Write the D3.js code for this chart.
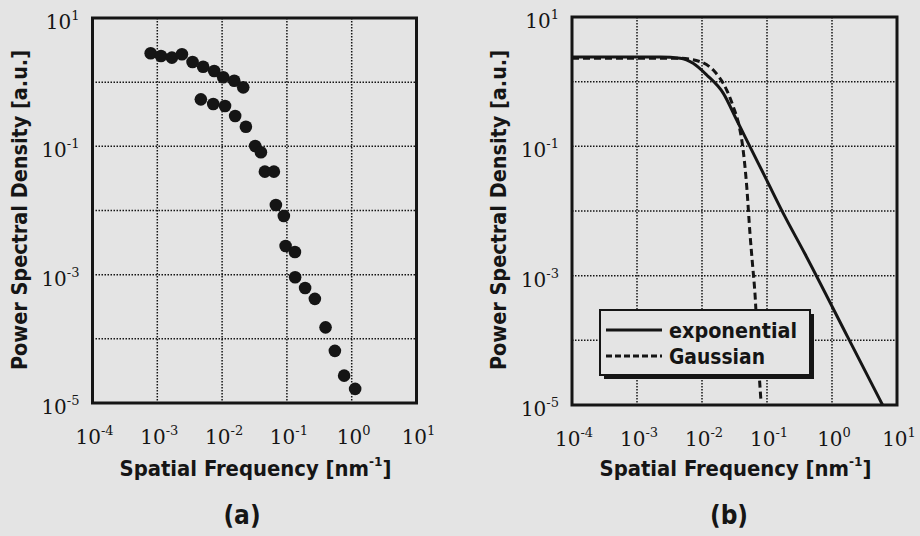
<!DOCTYPE html>
<html>
<head>
<meta charset="utf-8">
<script src="https://cdn.jsdelivr.net/npm/d3@7"></script>
<style>
  body { margin: 0; background: #e4e4e4; }
  svg { display: block; }
  .title { font-family: "DejaVu Sans Condensed", "DejaVu Sans", sans-serif; font-weight: bold; font-stretch: condensed; fill: #151515; }
  .tick-label { font-family: "DejaVu Serif", serif; fill: #151515; }
</style>
</head>
<body>
<svg id="chart" width="920" height="536"></svg>
<script>
// measured points, panel (a)
const dotFreq = [7.9e-4, 1.14e-3, 1.68e-3, 2.4e-3, 3.5e-3, 5.1e-3, 7.55e-3, 1.04e-2, 1.54e-2, 2.12e-2,
  4.7e-3, 7.3e-3, 1.11e-2, 1.59e-2, 2.33e-2, 3.24e-2, 3.97e-2, 4.57e-2, 6.3e-2, 6.76e-2,
  8.97e-2, 9.55e-2, 0.133, 0.134, 0.191, 0.27, 0.395, 0.55, 0.764, 1.13];
const dotPsd = [2.82, 2.56, 2.41, 2.72, 2.06, 1.74, 1.49, 1.19, 1.05, 0.83,
  0.54, 0.457, 0.425, 0.297, 0.202, 0.101, 0.0807, 0.0403, 0.0403, 0.0122,
  0.0082, 0.0028, 0.00225, 9.1e-4, 6.2e-4, 4.2e-4, 1.51e-4, 6.5e-5, 2.67e-5, 1.66e-5];

// model curves, panel (b)
const expFreq = [1e-4, 2.3e-3, 4.6e-3, 7.3e-3, 1.18e-2, 2.13e-2, 3.42e-2, 5.47e-2, 9.9e-2, 0.178, 0.385, 1.78, 6.0];
const expPsd = [2.4, 2.4, 2.3, 1.92, 1.27, 0.66, 0.255, 0.099, 0.030, 0.0092, 2.16e-3, 1.08e-4, 1.0e-5];
const gauFreq = [1e-4, 4.6e-3, 9.3e-3, 1.49e-2, 2.4e-2, 3.03e-2, 3.75e-2, 4.23e-2, 4.88e-2, 5.47e-2, 6.03e-2, 6.53e-2, 7.35e-2, 8.1e-2];
const gauPsd = [2.3, 2.3, 2.04, 1.51, 0.74, 0.41, 0.20, 0.099, 0.0238, 4.5e-3, 1.38e-3, 5.3e-4, 5e-5, 1.1e-5];

const xTickExp = [-4, -3, -2, -1, 0, 1];
const yTickExp = [1, -1, -3, -5];
const yGridExp = [0, -1, -2, -3, -4];
const legendNames = ["exponential", "Gaussian"];
const legendWidths = [128, 96];

const ink = "#151515";
const svg = d3.select("#chart");

function drawPanel(box, label) {
    const x = d3.scaleLog().domain([1e-4, 1e1]).range([box.left, box.right]);
    const y = d3.scaleLog().domain([1e-5, 1e1]).range([box.bottom, box.top]);
    const g = svg.append("g");

    // dotted grid
    g.selectAll(".gx").data(xTickExp.slice(1, -1)).join("line")
        .attr("x1", d => x(10 ** d)).attr("x2", d => x(10 ** d))
        .attr("y1", box.top).attr("y2", box.bottom)
        .attr("stroke", ink).attr("stroke-width", 1.5).attr("stroke-dasharray", "1.5,1.5");
    g.selectAll(".gy").data(yGridExp).join("line")
        .attr("y1", d => y(10 ** d)).attr("y2", d => y(10 ** d))
        .attr("x1", box.left).attr("x2", box.right)
        .attr("stroke", ink).attr("stroke-width", 1.5).attr("stroke-dasharray", "1.5,1.5");

    // tick labels: 10 with superscript
    const xl = g.selectAll(".xl").data(xTickExp).join("text")
        .attr("class", "tick-label")
        .attr("x", d => x(10 ** d) + 2).attr("y", box.bottom + 41)
        .attr("text-anchor", "middle").attr("font-size", 20);
    xl.append("tspan").text("10");
    xl.append("tspan").attr("font-size", 13).attr("dy", -9).text(d => d);

    const yl = g.selectAll(".yl").data(yTickExp).join("text")
        .attr("class", "tick-label")
        .attr("x", box.left - 13).attr("y", d => y(10 ** d) + 11)
        .attr("text-anchor", "end").attr("font-size", 20);
    yl.append("tspan").text("10");
    yl.append("tspan").attr("font-size", 13).attr("dy", -9).text(d => d);

    // axis titles
    const xt = g.append("text").attr("class", "title")
        .attr("x", (box.left + box.right) / 2 + 1).attr("y", 476)
        .attr("text-anchor", "middle").attr("font-size", 21)
        .attr("textLength", 272).attr("lengthAdjust", "spacingAndGlyphs");
    xt.append("tspan").text("Spatial Frequency [nm");
    xt.append("tspan").attr("font-size", 13).attr("dy", -10).text("-1");
    xt.append("tspan").attr("dy", 10).text("]");

    g.append("text").attr("class", "title")
        .attr("transform", `translate(${box.left - 66},210) rotate(-90)`)
        .attr("text-anchor", "middle").attr("font-size", 21)
        .attr("textLength", 320).attr("lengthAdjust", "spacingAndGlyphs")
        .text("Power Spectral Density [a.u.]");

    g.append("text").attr("class", "title")
        .attr("x", box.labelX).attr("y", 524)
        .attr("text-anchor", "middle").attr("font-size", 26)
        .text(label);

    return { g, x, y };
}

// panel (a)
const a = drawPanel({ left: 92.5, right: 416.5, top: 18, bottom: 403, labelX: 242 }, "(a)");
a.g.selectAll("circle").data(dotFreq).join("circle")
    .attr("cx", d => a.x(d))
    .attr("cy", (d, i) => a.y(dotPsd[i]))
    .attr("r", 6.3)
    .attr("fill", ink);
a.g.append("rect").attr("x", 92.5).attr("y", 18).attr("width", 324).attr("height", 385)
    .attr("fill", "none").attr("stroke", ink).attr("stroke-width", 3);

// panel (b)
const b = drawPanel({ left: 572, right: 897, top: 17, bottom: 405, labelX: 729 }, "(b)");
const line = d3.line().x(d => b.x(d[0])).y(d => b.y(d[1])).curve(d3.curveMonotoneX);
b.g.append("path").datum(gauFreq.map((f, i) => [f, gauPsd[i]]))
    .attr("d", line).attr("fill", "none").attr("stroke", ink)
    .attr("stroke-width", 3).attr("stroke-dasharray", "7,4");
b.g.append("path").datum(expFreq.map((f, i) => [f, expPsd[i]]))
    .attr("d", line).attr("fill", "none").attr("stroke", ink).attr("stroke-width", 3);
b.g.append("rect").attr("x", 572).attr("y", 17).attr("width", 325).attr("height", 388)
    .attr("fill", "none").attr("stroke", ink).attr("stroke-width", 3);

// legend with drop shadow
const lg = b.g.append("g");
lg.append("rect").attr("x", 604).attr("y", 314).attr("width", 210).attr("height", 65).attr("fill", ink);
lg.append("rect").attr("x", 600).attr("y", 310).attr("width", 210).attr("height", 65)
    .attr("fill", "#e4e4e4").attr("stroke", ink).attr("stroke-width", 2);
legendNames.forEach((name, i) => {
    const ly = 330 + i * 26;
    lg.append("line").attr("x1", 606).attr("x2", 662).attr("y1", ly).attr("y2", ly)
        .attr("stroke", ink).attr("stroke-width", 3)
        .attr("stroke-dasharray", i === 1 ? "6,3" : null);
    lg.append("text").attr("class", "title").attr("x", 669).attr("y", ly + 8)
        .attr("font-size", 21)
        .attr("textLength", legendWidths[i]).attr("lengthAdjust", "spacingAndGlyphs")
        .text(name);
});
</script>
</body>
</html>
